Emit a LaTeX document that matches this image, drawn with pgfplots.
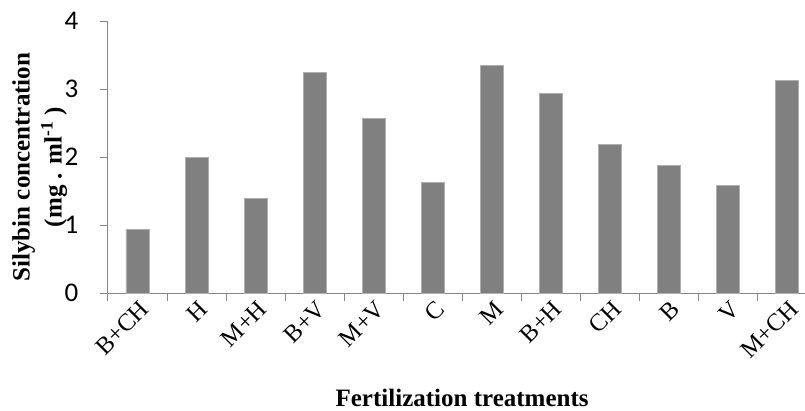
\documentclass[border=0pt]{standalone}
\usepackage{fontspec}
\setmainfont{Liberation Serif}
\newfontfamily\calibri{Carlito}
\usepackage{pgfplots}
\pgfplotsset{compat=1.18}
\definecolor{barfill}{RGB}{128,128,128}
\definecolor{baredge}{RGB}{175,175,175}
\definecolor{axisgray}{RGB}{134,134,134}
\begin{document}
\begin{tikzpicture}
\begin{axis}[
  scale only axis,
  width=697pt, height=272pt,
  xmin=-0.5, xmax=11.31,
  ymin=0, ymax=4,
  axis x line=bottom, axis y line=left,
  axis line style={-, draw=axisgray, line width=1pt},
  tick style={draw=axisgray, line width=1pt},
  tick align=outside,
  major tick length=8pt,
  ytick={0,1,2,3,4},
  yticklabel style={font=\calibri\fontsize{27}{27}\selectfont, anchor=east, inner sep=0pt, xshift=-21.5pt},
  /pgf/number format/assume math mode=true,
  xtick={-0.5,0.5,...,10.5},
  xticklabels={B+CH,H,M+H,B+V,M+V,C,M,B+H,CH,B,V,M+CH},
  xticklabel style={font=\fontsize{24.5}{24.5}\selectfont, inner sep=0pt, xshift=31pt, yshift=2pt, rotate=45, anchor=north east},
  xlabel={Fertilization treatments},
  xlabel style={font=\bfseries\fontsize{25}{30}\selectfont, at={(axis description cs:0.508,0)}, anchor=base, yshift=-113pt},
  ylabel={Silybin concentration\\[1pt](mg . ml\textsuperscript{-1} )},
  ylabel style={font=\bfseries\fontsize{25}{31}\selectfont, align=center, at={(axis description cs:-0.098,0.463)}, anchor=center},
]
\addplot[ybar, bar width=0.39, fill=barfill, draw=baredge, line width=0.8pt] coordinates {
  (0,0.94) (1,1.99) (2,1.39) (3,3.24) (4,2.57) (5,1.63)
  (6,3.34) (7,2.93) (8,2.19) (9,1.87) (10,1.58) (11,3.12)
};
\end{axis}
\pgfresetboundingbox
\path (-108pt,-117pt) rectangle (697pt,293pt);
\end{tikzpicture}
\end{document}
